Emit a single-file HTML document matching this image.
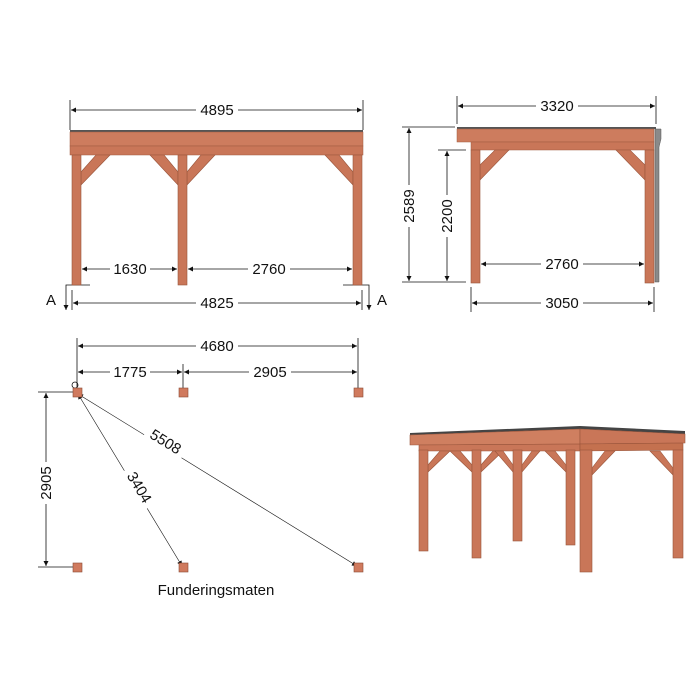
<!DOCTYPE html>
<html><head><meta charset="utf-8"><style>
html,body{margin:0;padding:0;background:#fff;}
svg{display:block;}
text{font-family:"Liberation Sans",sans-serif;font-size:15px;fill:#111;}
</style></head><body>
<svg width="700" height="700" viewBox="0 0 700 700" xmlns="http://www.w3.org/2000/svg">
<defs>
<marker id="ar" viewBox="0 0 10 10" refX="10" refY="5" markerWidth="7" markerHeight="5" orient="auto-start-reverse" markerUnits="userSpaceOnUse"><path d="M0,0 L10,5 L0,10 z" fill="#111"/></marker>
</defs>
<g stroke="#111" stroke-width="0.8" fill="none">
<line x1="70" y1="100" x2="70" y2="130"/><line x1="363" y1="100" x2="363" y2="130"/>
<line x1="71" y1="110" x2="362" y2="110" marker-start="url(#ar)" marker-end="url(#ar)"/>
<line x1="82" y1="269" x2="177" y2="269" marker-start="url(#ar)" marker-end="url(#ar)"/>
<line x1="188" y1="269" x2="352" y2="269" marker-start="url(#ar)" marker-end="url(#ar)"/>
<line x1="72" y1="290" x2="72" y2="310"/><line x1="362" y1="290" x2="362" y2="310"/>
<line x1="73" y1="303" x2="361" y2="303" marker-start="url(#ar)" marker-end="url(#ar)"/>
<polyline points="90,285 66,285 66,310" marker-end="url(#ar)"/><polyline points="343,285 369,285 369,310" marker-end="url(#ar)"/>
<line x1="457" y1="96" x2="457" y2="124"/><line x1="656" y1="96" x2="656" y2="124"/>
<line x1="458" y1="106" x2="655" y2="106" marker-start="url(#ar)" marker-end="url(#ar)"/>
<line x1="402" y1="127" x2="455" y2="127"/><line x1="402" y1="282" x2="466" y2="282"/>
<line x1="409" y1="128" x2="409" y2="281" marker-start="url(#ar)" marker-end="url(#ar)"/>
<line x1="438" y1="150" x2="466" y2="150"/>
<line x1="447" y1="151" x2="447" y2="281" marker-start="url(#ar)" marker-end="url(#ar)"/>
<line x1="481" y1="264" x2="644" y2="264" marker-start="url(#ar)" marker-end="url(#ar)"/>
<line x1="471" y1="287" x2="471" y2="312"/><line x1="654" y1="287" x2="654" y2="312"/>
<line x1="472" y1="303" x2="653" y2="303" marker-start="url(#ar)" marker-end="url(#ar)"/>
<line x1="77" y1="338" x2="77" y2="388"/><line x1="358" y1="338" x2="358" y2="388"/><line x1="183" y1="364" x2="183" y2="388"/>
<line x1="78" y1="346" x2="357" y2="346" marker-start="url(#ar)" marker-end="url(#ar)"/>
<line x1="78" y1="372" x2="182" y2="372" marker-start="url(#ar)" marker-end="url(#ar)"/>
<line x1="184" y1="372" x2="357" y2="372" marker-start="url(#ar)" marker-end="url(#ar)"/>
<line x1="38" y1="392" x2="73" y2="392"/><line x1="38" y1="567" x2="73" y2="567"/>
<line x1="46" y1="393" x2="46" y2="566" marker-start="url(#ar)" marker-end="url(#ar)"/>
<line x1="78" y1="394" x2="182" y2="566" marker-start="url(#ar)" marker-end="url(#ar)" stroke-width="0.6"/>
<line x1="78" y1="394" x2="357" y2="566" marker-start="url(#ar)" marker-end="url(#ar)" stroke-width="0.6"/>
<circle cx="75" cy="385" r="3"/>
</g>
<g text-anchor="middle">
<rect x="196" y="101" width="42" height="16" fill="#fff"/><text x="217" y="115">4895</text>
<rect x="110" y="261" width="40" height="16" fill="#fff"/><text x="130" y="274">1630</text>
<rect x="248" y="261" width="42" height="16" fill="#fff"/><text x="269" y="274">2760</text>
<rect x="196" y="294" width="42" height="16" fill="#fff"/><text x="217" y="308">4825</text>
<text x="51" y="305" font-size="16">A</text><text x="382" y="305" font-size="16">A</text>
<rect x="536" y="97" width="42" height="16" fill="#fff"/><text x="557" y="111">3320</text>
<rect x="541" y="255" width="42" height="16" fill="#fff"/><text x="562" y="269">2760</text>
<rect x="541" y="294" width="42" height="16" fill="#fff"/><text x="562" y="308">3050</text>
<rect x="401" y="185" width="16" height="42" fill="#fff"/><text transform="translate(414,206) rotate(-90)">2589</text>
<rect x="439" y="195" width="16" height="42" fill="#fff"/><text transform="translate(452,216) rotate(-90)">2200</text>
<rect x="196" y="337" width="42" height="16" fill="#fff"/><text x="217" y="351">4680</text>
<rect x="110" y="364" width="40" height="16" fill="#fff"/><text x="130" y="377">1775</text>
<rect x="249" y="364" width="42" height="16" fill="#fff"/><text x="270" y="377">2905</text>
<rect x="38" y="462" width="16" height="42" fill="#fff"/><text transform="translate(51,483) rotate(-90)">2905</text>
<g transform="translate(135,490) rotate(59)"><rect x="-22" y="-13" width="44" height="17" fill="#fff"/><text x="0" y="0">3404</text></g>
<g transform="translate(163,446) rotate(31.6)"><rect x="-22" y="-13" width="44" height="17" fill="#fff"/><text x="0" y="0">5508</text></g>
<text x="216" y="595">Funderingsmaten</text>
</g>
<g>
<rect x="70" y="130" width="293" height="2" fill="#555"/>
<rect x="70" y="132" width="293" height="14" fill="#cd7c5e" stroke="#a05a40" stroke-width="0.5"/>
<rect x="70" y="146" width="293" height="9" fill="#c97658" stroke="#a05a40" stroke-width="0.5"/>
<g fill="#c97658" stroke="#9a553b" stroke-width="0.6">
<polygon points="81,172 96,155 110,155 81,185"/>
<polygon points="178,172 164,155 150,155 178,185"/>
<polygon points="187,172 201,155 215,155 187,185"/>
<polygon points="353,172 339,155 325,155 353,185"/>
<rect x="72" y="155" width="9" height="130"/>
<rect x="178" y="155" width="9" height="130"/>
<rect x="353" y="155" width="9" height="130"/>
</g>
</g>
<g>
<rect x="457" y="127" width="199" height="2" fill="#555"/>
<rect x="457" y="129" width="197" height="13" fill="#cd7c5e" stroke="#a05a40" stroke-width="0.5"/>
<rect x="471" y="142" width="183" height="8" fill="#c97658" stroke="#a05a40" stroke-width="0.5"/>
<g fill="#c97658" stroke="#9a553b" stroke-width="0.6">
<polygon points="480,165 495,150 509,150 480,180"/>
<polygon points="645,165 630,150 616,150 645,180"/>
<rect x="471" y="150" width="9" height="133"/>
<rect x="645" y="150" width="9" height="133"/>
</g>
<path d="M655,129 h6 v10 l-2,8 v135 h-4 z" fill="#8a8a8a" stroke="#555" stroke-width="0.5"/>
</g>
<g fill="#d07a5e" stroke="#8a4a35" stroke-width="0.6">
<rect x="73" y="388" width="9" height="9"/><rect x="179" y="388" width="9" height="9"/><rect x="354" y="388" width="9" height="9"/>
<rect x="73" y="563" width="9" height="9"/><rect x="179" y="563" width="9" height="9"/><rect x="354" y="563" width="9" height="9"/>
</g>
<g stroke="#9a553b" stroke-width="0.6">
<polygon points="410,433 580,426 685,431 685,434 580,429 410,435" fill="#444" stroke="none"/>
<polygon points="410,435 580,429 580,444 410,445" fill="#cf7f60"/>
<polygon points="580,429 685,434 685,443 580,444" fill="#c97658"/>
<polygon points="419,445 580,444 580,451 419,451" fill="#c97658"/>
<polygon points="580,444 683,443 683,450 580,451" fill="#c4714f"/>
<g fill="#c97658">
<rect x="513" y="450" width="9" height="91"/>
<rect x="566" y="450" width="9" height="95"/>
<polygon points="428,465 440,451 450,451 428,472"/>
<polygon points="472,465 460,451 450,451 472,472"/>
<polygon points="481,465 493,451 503,451 481,472"/>
<polygon points="513,465 503,451 495,451 513,472"/>
<polygon points="522,465 532,451 540,451 522,472"/>
<polygon points="566,465 555,451 545,451 566,472"/>
<polygon points="592,468 605,451 615,451 592,475"/>
<polygon points="673,468 660,451 650,451 673,475"/>
<rect x="419" y="450" width="9" height="101"/>
<rect x="472" y="450" width="9" height="108"/>
<rect x="580" y="450" width="12" height="122"/>
<rect x="673" y="450" width="10" height="108"/>
</g>
</g>
</svg>
</body></html>
